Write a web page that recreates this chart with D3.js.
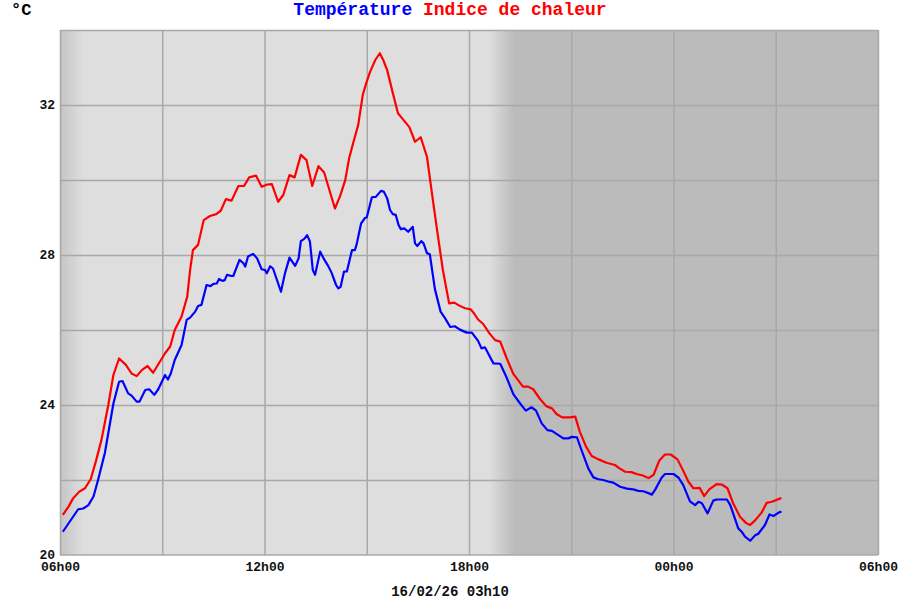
<!DOCTYPE html>
<html>
<head>
<meta charset="utf-8">
<script src="https://cdn.jsdelivr.net/npm/d3@7"></script>
<style>
  body { margin: 0; background: #ffffff; }
  text { font-family: "Liberation Mono", "DejaVu Sans Mono", monospace; font-weight: bold; }
</style>
</head>
<body>
<svg id="chart" width="900" height="600"></svg>
<script>
// ---------- DATA ----------
const tempTimes = ["06:05","06:32","06:41","06:50","06:59","07:07","07:19","07:34","07:44","07:50","08:00","08:06","08:15","08:20","08:30","08:37","08:46","08:53","09:05","09:10","09:15","09:22","09:34","09:43","09:49","09:58","10:03","10:09","10:18","10:25","10:30","10:36","10:40","10:46","10:50","10:54","11:02","11:05","11:16","11:23","11:26","11:31","11:40","11:47","11:55","12:01","12:04","12:10","12:15","12:29","12:36","12:44","12:54","13:00","13:04","13:10","13:15","13:20","13:25","13:29","13:38","13:44","13:52","13:58","14:06","14:10","14:14","14:20","14:25","14:34","14:39","14:42","14:50","14:57","15:00","15:09","15:16","15:25","15:30","15:36","15:41","15:46","15:51","15:56","16:00","16:06","16:13","16:21","16:25","16:29","16:36","16:40","16:46","16:51","17:00","17:10","17:18","17:27","17:35","17:44","17:56","18:05","18:16","18:22","18:28","18:43","18:55","19:06","19:18","19:30","19:40","19:50","19:58","20:08","20:18","20:26","20:34","20:46","20:55","21:01","21:10","21:18","21:30","21:39","21:48","21:56","22:05","22:14","22:26","22:38","22:49","22:58","23:07","23:16","23:22","23:28","23:39","23:45","00:00","00:09","00:17","00:29","00:38","00:44","00:50","01:00","01:10","01:16","01:34","01:40","01:54","02:00","02:06","02:15","02:24","02:29","02:41","02:49","02:56","03:05","03:10"];
const tempValues = [20.62,21.22,21.24,21.33,21.56,22.00,22.72,24.04,24.62,24.64,24.31,24.25,24.09,24.09,24.40,24.42,24.27,24.42,24.80,24.68,24.84,25.20,25.60,26.27,26.33,26.49,26.64,26.67,27.20,27.17,27.23,27.24,27.36,27.31,27.33,27.47,27.44,27.44,27.87,27.78,27.69,27.96,28.03,27.91,27.62,27.60,27.51,27.70,27.64,27.02,27.51,27.93,27.71,27.91,28.37,28.43,28.53,28.36,27.60,27.47,28.09,27.91,27.71,27.53,27.20,27.11,27.15,27.56,27.56,28.13,28.13,28.27,28.84,28.99,29.00,29.54,29.55,29.71,29.69,29.51,29.20,29.09,29.07,28.80,28.69,28.71,28.62,28.75,28.31,28.24,28.37,28.31,28.05,28.02,27.09,26.49,26.31,26.08,26.10,26.01,25.93,25.93,25.71,25.51,25.54,25.11,25.10,24.74,24.29,24.04,23.85,23.94,23.85,23.51,23.33,23.31,23.23,23.11,23.11,23.15,23.14,22.80,22.31,22.07,22.02,22.00,21.96,21.93,21.82,21.77,21.75,21.71,21.70,21.65,21.61,21.75,22.06,22.16,22.16,22.06,21.87,21.43,21.33,21.42,21.38,21.11,21.45,21.48,21.48,21.33,20.71,20.62,20.49,20.38,20.53,20.56,20.80,21.08,21.04,21.13,21.16];

const heatTimes = ["06:05","06:15","06:23","06:34","06:44","06:54","07:03","07:13","07:25","07:34","07:44","07:56","08:06","08:15","08:24","08:34","08:44","08:56","09:05","09:14","09:22","09:34","09:44","09:49","09:54","10:03","10:13","10:24","10:35","10:43","10:52","11:02","11:14","11:24","11:33","11:45","11:55","12:05","12:13","12:24","12:33","12:44","12:53","13:04","13:14","13:24","13:35","13:45","14:04","14:13","14:22","14:29","14:36","14:45","14:53","14:59","15:06","15:15","15:23","15:29","15:36","15:46","15:55","16:02","16:15","16:25","16:35","16:46","16:54","17:03","17:14","17:25","17:34","17:43","17:53","18:03","18:09","18:16","18:25","18:36","18:46","18:55","19:06","19:18","19:35","19:44","19:53","20:05","20:16","20:26","20:34","20:44","20:58","21:07","21:15","21:26","21:36","21:48","22:02","22:17","22:25","22:35","22:46","22:55","23:06","23:16","23:25","23:35","23:45","23:55","00:07","00:17","00:26","00:35","00:46","00:54","01:03","01:16","01:25","01:35","01:45","01:57","02:08","02:15","02:24","02:35","02:44","02:53","03:05","03:10"];
const heatValues = [21.07,21.29,21.51,21.69,21.78,22.02,22.49,23.07,24.00,24.80,25.24,25.07,24.84,24.77,24.93,25.04,24.86,25.16,25.38,25.56,26.00,26.36,26.89,27.60,28.13,28.27,28.93,29.04,29.09,29.18,29.49,29.45,29.84,29.84,30.07,30.12,29.82,29.88,29.89,29.42,29.60,30.13,30.07,30.67,30.53,29.84,30.37,30.20,29.24,29.57,29.99,30.58,30.98,31.47,32.27,32.58,32.89,33.20,33.38,33.20,32.93,32.31,31.78,31.65,31.41,31.02,31.14,30.62,29.73,28.75,27.60,26.71,26.73,26.65,26.58,26.55,26.44,26.28,26.16,25.91,25.73,25.69,25.26,24.83,24.49,24.49,24.42,24.16,23.97,23.91,23.76,23.67,23.67,23.69,23.29,22.89,22.64,22.55,22.46,22.40,22.31,22.22,22.21,22.16,22.12,22.05,22.14,22.52,22.68,22.68,22.55,22.25,21.96,21.78,21.79,21.57,21.75,21.89,21.88,21.78,21.38,21.02,20.85,20.80,20.93,21.13,21.39,21.42,21.49,21.52];

const seriesNames = ["Température", "Indice de chaleur"];
const unitLabel = "°C";
const stampLabel = "16/02/26 03h10";
const yTickValues = [20, 24, 28, 32];
const xTickLabels = ["06h00", "12h00", "18h00", "00h00", "06h00"];
const sunTimes = ["06:00", "06:40", "18:35", "19:20"]; // dawn end / dusk shading

// ---------- SETUP ----------
const W = 900, H = 600;
const margin = { top: 30, right: 22, bottom: 45, left: 60 };
const iw = W - margin.left - margin.right;
const ih = H - margin.top - margin.bottom;

const start = new Date(2026, 1, 15, 6, 0);
const end = new Date(2026, 1, 16, 6, 0);
function toDate(s) {
  const [h, m] = s.split(":").map(Number);
  const d = new Date(2026, 1, 15, h, m);
  if (h < 6) d.setDate(d.getDate() + 1);
  return d;
}

const x = d3.scaleTime().domain([start, end]).range([0, iw]);
const y = d3.scaleLinear().domain([20, 34]).range([ih, 0]);

const svg = d3.select("#chart");
const defs = svg.append("defs");
const g = svg.append("g").attr("transform", `translate(${margin.left},${margin.top})`);

// background gradient (day / night)
const grad = defs.append("linearGradient").attr("id", "daynight")
  .attr("gradientUnits", "userSpaceOnUse")
  .attr("x1", 0).attr("x2", iw).attr("y1", 0).attr("y2", 0);
const sx = sunTimes.map(t => x(toDate(t)) / iw);
grad.append("stop").attr("offset", sx[0]).attr("stop-color", "#c4c4c4");
grad.append("stop").attr("offset", sx[1]).attr("stop-color", "#dedede");
grad.append("stop").attr("offset", sx[2]).attr("stop-color", "#dedede");
grad.append("stop").attr("offset", sx[3]).attr("stop-color", "#bbbbbb");
grad.append("stop").attr("offset", 1).attr("stop-color", "#bbbbbb");

g.append("rect").attr("width", iw).attr("height", ih).attr("fill", "url(#daynight)");

// grid
const gridColor = "#a8a8a8";
g.append("g").attr("class", "ygrid")
  .call(d3.axisLeft(y).tickValues(d3.range(22, 35, 2)).tickSize(-iw).tickFormat(""))
  .call(s => s.select(".domain").remove())
  .call(s => s.selectAll("line").attr("stroke", gridColor).attr("stroke-width", 1.5));

g.append("g").attr("class", "xgrid").attr("transform", `translate(0,${ih})`)
  .call(d3.axisBottom(x).ticks(d3.timeHour.every(3)).tickSize(-ih).tickFormat(""))
  .call(s => s.select(".domain").remove())
  .call(s => s.selectAll("line").attr("stroke", gridColor).attr("stroke-width", 1.5));

// bottom frame
g.append("line").attr("x1", 0).attr("x2", iw).attr("y1", ih).attr("y2", ih)
  .attr("stroke", gridColor).attr("stroke-width", 1.5);

// axes labels
g.append("g").attr("class", "yaxis")
  .call(d3.axisLeft(y).tickValues(yTickValues).tickSize(0).tickPadding(5).tickFormat(d3.format("d")))
  .call(s => s.select(".domain").remove())
  .call(s => s.selectAll("text").attr("font-size", 13).attr("fill", "#111").attr("dy", "0.28em")
    .attr("font-family", "Liberation Mono, monospace").attr("font-weight", "bold"));

const xTickDates = d3.range(0, 5).map(i => d3.timeHour.offset(start, i * 6));
g.append("g").attr("class", "xaxis").attr("transform", `translate(0,${ih})`)
  .call(d3.axisBottom(x).tickValues(xTickDates).tickSize(0).tickPadding(7)
    .tickFormat((d, i) => xTickLabels[i]))
  .call(s => s.select(".domain").remove())
  .call(s => s.selectAll("text").attr("font-size", 13).attr("fill", "#111")
    .attr("font-family", "Liberation Mono, monospace").attr("font-weight", "bold"));

// lines
const tempData = tempTimes.map((t, i) => ({ d: toDate(t), v: tempValues[i] }));
const heatData = heatTimes.map((t, i) => ({ d: toDate(t), v: heatValues[i] }));
const line = d3.line().x(p => x(p.d)).y(p => y(p.v));

g.append("path").datum(heatData).attr("d", line)
  .attr("fill", "none").attr("stroke", "#ff0000").attr("stroke-width", 2.2).attr("stroke-linejoin", "round");
g.append("path").datum(tempData).attr("d", line)
  .attr("fill", "none").attr("stroke", "#0000ff").attr("stroke-width", 2.2).attr("stroke-linejoin", "round");

// title
const title = svg.append("text").attr("x", 450).attr("y", 15)
  .attr("text-anchor", "middle").attr("font-size", 18);
title.append("tspan").attr("fill", "#0000ff").text(seriesNames[0]);
title.append("tspan").attr("fill", "#ff0000").text(" " + seriesNames[1]);

svg.append("text").attr("x", 11).attr("y", 15).attr("font-size", 17).attr("fill", "#000").text(unitLabel);

svg.append("text").attr("x", 450).attr("y", 596).attr("text-anchor", "middle")
  .attr("font-size", 14).attr("fill", "#111").text(stampLabel);
</script>
</body>
</html>
